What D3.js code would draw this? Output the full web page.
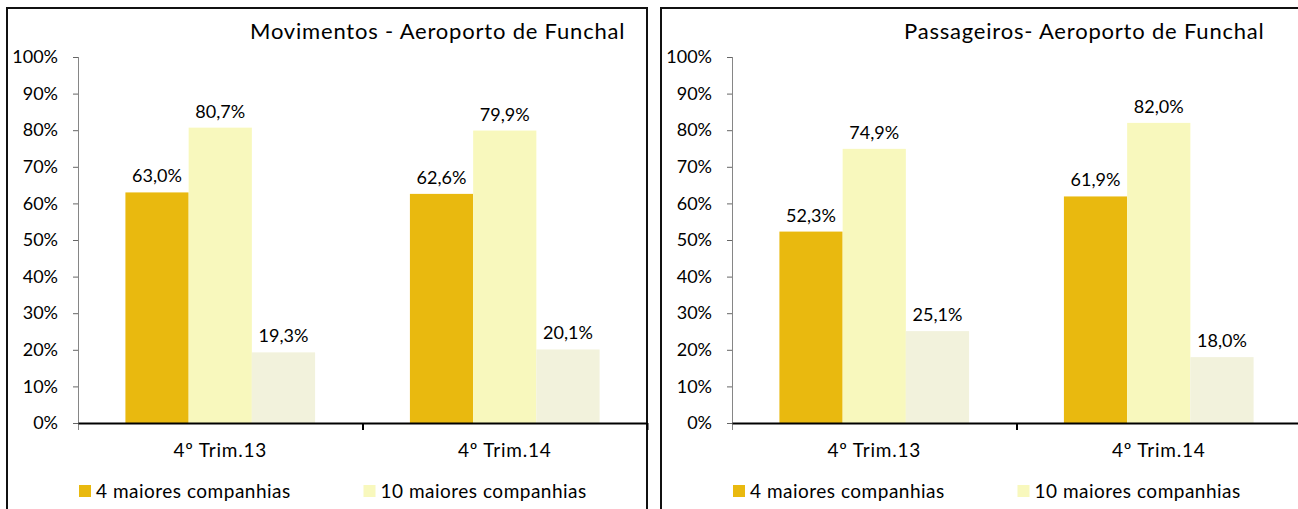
<!DOCTYPE html>
<html>
<head>
<meta charset="utf-8">
<script src="https://cdn.jsdelivr.net/npm/d3@7"></script>
<style>
  body { margin: 0; background: #fff; }
  text { font-family: Lato, "Open Sans", sans-serif; fill: #000; }
</style>
</head>
<body>
<script>
//Chart data
var categories = ["4º Trim.13", "4º Trim.14"];
var seriesKeys = ["top4", "top10", "outras"];
var legendNames = ["4 maiores companhias", "10 maiores companhias"];
var movimentos = [[63.0, 80.7, 19.3], [62.6, 79.9, 20.1]];
var passageiros = [[52.3, 74.9, 25.1], [61.9, 82.0, 18.0]];
var titles = ["Movimentos - Aeroporto de Funchal", "Passageiros- Aeroporto de Funchal"];
var yTicks = [0, 10, 20, 30, 40, 50, 60, 70, 80, 90, 100];

//Size
var w = 1298;
var h = 509;
var colors = ["#E9B90F", "#F8F8BD", "#F2F2DC"];

var svg = d3.select("body")
			.append("svg")
			.attr("width", w)
			.attr("height", h);

svg.append("rect").attr("width", w).attr("height", h).attr("fill", "#fff");

var panels = [
	{x: 7, title: titles[0], values: movimentos},
	{x: 661, title: titles[1], values: passageiros}
];

var plotW = 569;

//Scales shared by both panels
var x0 = d3.scaleBand()
		   .domain(categories)
		   .range([0, plotW]);

var x1 = d3.scaleBand()
		   .domain(seriesKeys)
		   .range([0, x0.bandwidth()])
		   .paddingOuter(0.75);

var xb = d3.scaleLinear()
		   .domain([0, categories.length])
		   .range([0, plotW]);

var y = d3.scaleLinear()
		  .domain([0, 100])
		  .range([423, 57]);

function fmt(v) {
	return v.toFixed(1).replace(".", ",") + "%";
}

panels.forEach(function(p) {

	var g = svg.append("g").attr("transform", "translate(" + p.x + ",0)");

	//Frame
	g.append("rect")
	 .attr("x", 0)
	 .attr("y", 8)
	 .attr("width", 640)
	 .attr("height", 700)
	 .attr("fill", "none")
	 .attr("stroke", "#111")
	 .attr("stroke-width", 2);

	//Title
	g.append("text")
	 .attr("x", 243)
	 .attr("y", 39)
	 .style("font-size", "22px")
	 .style("letter-spacing", "0.8px")
	 .text(p.title);

	var plot = g.append("g").attr("transform", "translate(71,0)");

	//Bars
	var groups = plot.selectAll("g.cat")
		.data(categories)
		.enter()
		.append("g")
		.attr("class", "cat")
		.attr("transform", function(d) { return "translate(" + x0(d) + ",0)"; });

	groups.selectAll("rect")
		.data(function(d, i) {
			return p.values[i].map(function(v, j) { return {key: seriesKeys[j], value: v, idx: j}; });
		})
		.enter()
		.append("rect")
		.attr("x", function(d) { return x1(d.key); })
		.attr("y", function(d) { return y(d.value); })
		.attr("width", x1.bandwidth())
		.attr("height", function(d) { return y(0) - y(d.value); })
		.attr("fill", function(d) { return colors[d.idx]; });

	groups.selectAll("text.val")
		.data(function(d, i) {
			return p.values[i].map(function(v, j) { return {key: seriesKeys[j], value: v}; });
		})
		.enter()
		.append("text")
		.attr("class", "val")
		.attr("x", function(d) { return x1(d.key) + x1.bandwidth() / 2; })
		.attr("y", function(d) { return y(d.value) - 10; })
		.attr("text-anchor", "middle")
		.style("font-size", "18px")
		.text(function(d) { return fmt(d.value); });

	//Y axis
	var yAxis = plot.append("g")
		.call(d3.axisLeft(y)
				.tickValues(yTicks)
				.tickSize(5)
				.tickSizeOuter(0)
				.tickPadding(15)
				.tickFormat(function(d) { return d + "%"; }));
	yAxis.select(".domain").attr("stroke", "#868686").attr("d", "M0.5," + y(100) + "V" + (y(0) + 7));
	yAxis.selectAll(".tick line").attr("stroke", "#666");
	yAxis.selectAll("text").style("font-size", "18px").attr("fill", "#000");

	//X axis: boundary ticks
	var xAxis = plot.append("g")
		.attr("transform", "translate(0," + y(0) + ")")
		.call(d3.axisBottom(xb)
				.tickValues(d3.range(1, categories.length + 1))
				.tickSize(7)
				.tickSizeOuter(0)
				.tickFormat(""));
	xAxis.select(".domain").attr("stroke", "#000").attr("stroke-width", 2);
	xAxis.selectAll(".tick line").attr("stroke", "#000").attr("stroke-width", 2);

	//X axis: category labels
	var xLabels = plot.append("g")
		.attr("transform", "translate(0," + y(0) + ")")
		.call(d3.axisBottom(x0).tickSize(0).tickPadding(21));
	xLabels.select(".domain").remove();
	xLabels.selectAll("text")
		.style("font-size", "19px")
		.style("letter-spacing", "0.8px")
		.attr("fill", "#000");

	//Legend
	var legend = plot.selectAll("g.leg")
		.data(legendNames)
		.enter()
		.append("g")
		.attr("class", "leg")
		.attr("transform", function(d, i) { return "translate(" + (xb(i) + 1) + ",485)"; });

	legend.append("rect")
		.attr("width", 12)
		.attr("height", 12)
		.attr("fill", function(d, i) { return colors[i]; });

	legend.append("text")
		.attr("x", 17)
		.attr("y", 13)
		.style("font-size", "19px")
		.style("letter-spacing", "0.5px")
		.text(function(d) { return d; });
});
</script>
</body>
</html>
